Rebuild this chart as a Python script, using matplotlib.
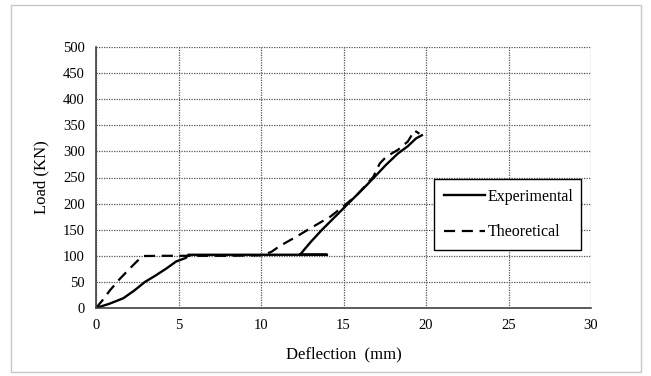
import numpy as np
import matplotlib.pyplot as plt
from matplotlib.patches import Rectangle

plt.rcParams['font.family'] = ['Liberation Serif', 'DejaVu Serif']

# Experimental curve (load rises, plateau, then second loading branch)
exp_x = [0, 0.8, 1.65, 2.3, 2.97, 3.6, 4.28, 4.85, 5.19, 5.45, 5.6, 8.0, 10.0, 12.0, 14.0,
         12.36, 13.0, 13.7, 14.4, 15.0, 15.6, 16.3, 17.0, 17.6, 18.3, 18.9, 19.4, 19.75]
exp_y = [0, 8, 18.6, 33, 50, 62, 76, 89, 93, 96, 102, 102, 102, 102, 102,
         102, 126, 150, 172, 191, 210, 232, 255, 275, 296, 310, 325, 331]

# Theoretical curve
th_x = [0, 0.4, 0.85, 1.45, 2.06, 2.5, 2.87, 4.0, 6.0, 8.0, 10.1, 10.65, 11.15, 12.16, 13.17,
        14.2, 15.0, 15.8, 16.8, 17.2, 17.6, 18.3, 18.9, 19.3, 19.6]
th_y = [0, 15, 34, 56, 76, 90, 99.6, 100, 100, 100, 101, 108, 119, 137, 156,
        175, 195, 216, 251, 277, 290, 303, 319, 340, 334]

x_ticks = [0, 5, 10, 15, 20, 25, 30]
y_ticks = [0, 50, 100, 150, 200, 250, 300, 350, 400, 450, 500]

fig = plt.figure(figsize=(6.51, 3.76), dpi=100)
ax = fig.add_axes([96 / 651, 68 / 376, 495 / 651, 261 / 376])

# outer chart border
fig.patches.append(Rectangle((11 / 651, 4 / 376), 630 / 651, 367 / 376,
                             transform=fig.transFigure, fill=False,
                             edgecolor='#c8c8c8', linewidth=1))

ax.plot(exp_x, exp_y, color='black', lw=1.7, label='Experimental')
ax.plot(th_x, th_y, color='black', lw=1.6, dashes=(5, 3), label='Theoretical')

ax.set_xlim(0, 30)
ax.set_ylim(0, 500)
ax.set_xticks(x_ticks)
ax.set_yticks(y_ticks)
ax.tick_params(length=0, labelsize=10.5, pad=8)
ax.grid(True, color='#555555', linestyle=(0, (1, 1)), linewidth=0.9)
for s in ['top', 'right']:
    ax.spines[s].set_visible(False)
for s in ['left', 'bottom']:
    ax.spines[s].set_color('#404040')
    ax.spines[s].set_linewidth(1.2)

ax.set_xlabel('Deflection  (mm)', fontsize=12, labelpad=10)
ax.set_ylabel('Load (KN)', fontsize=12, labelpad=10)

leg = ax.legend(loc='lower left', bbox_to_anchor=(0.683, 0.222, 0.297, 0.262),
                mode='expand', borderaxespad=0, fontsize=11.5, handlelength=2.6,
                handletextpad=0.15, labelspacing=1.25, fancybox=False, framealpha=1,
                borderpad=0.6)
leg.get_frame().set_edgecolor('black')
leg.get_frame().set_linewidth(1.0)

fig.savefig('out.png', dpi=100)
